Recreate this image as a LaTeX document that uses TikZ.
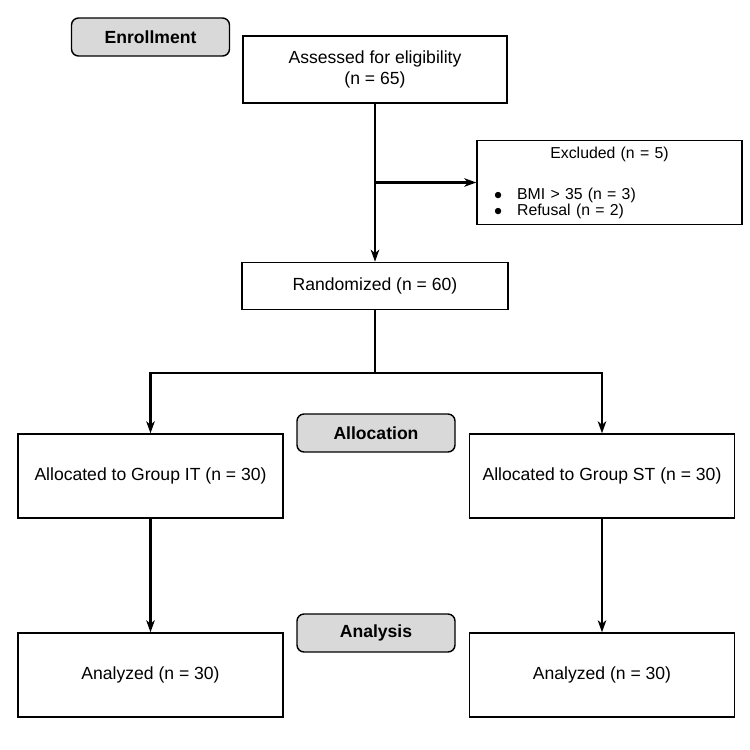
\documentclass[tikz,border=0pt]{standalone}
\usepackage{fontspec}
\setmainfont{Liberation Sans}
\usetikzlibrary{arrows.meta,positioning}

\begin{document}
\begin{tikzpicture}[
    >={Stealth[length=2.4mm,width=1.7mm,inset=0.7mm]},
    every node/.style={font=\fontsize{10}{12}\selectfont},
    box/.style={draw, line width=0.8pt, minimum width=5.3cm, minimum height=1.68cm, align=center},
    stage/.style={draw, line width=0.8pt, rounded corners=4pt, fill=gray!30, minimum width=3.16cm, minimum height=0.76cm, font=\fontsize{10}{12}\selectfont\bfseries},
    link/.style={->, line width=1.25pt},
  ]
    \useasboundingbox (0,0) rectangle (15,-15);

    % stage labels
    \node[stage] (enrol) at (3.01,-0.74) {Enrollment};
    \node[stage] (alloc) at (7.52,-8.66) {Allocation};
    \node[stage] (analysis) at (7.52,-12.66) {Analysis};

    % flow boxes
    \node[box, minimum width=5.28cm, minimum height=1.34cm] (elig) at (7.5,-1.39) {Assessed for eligibility\\(n = 65)};
    \node[box, minimum height=1.66cm, align=left, text width=5.1cm, inner xsep=0.1cm,
          font=\fontsize{9}{9.1}\selectfont] (excl) at (12.19,-3.65)
      {\makebox[\linewidth][c]{Excluded (n = 5)}\\[0.5cm]
       \hspace*{0.24cm}$\bullet$\hspace{0.3cm}BMI > 35 (n = 3)\\
       \hspace*{0.24cm}$\bullet$\hspace{0.3cm}Refusal (n = 2)};
    \node[box, minimum width=5.32cm, minimum height=0.94cm, below=3.16cm of elig] (rand) {Randomized (n = 60)};

    \node[box] (grpit) at (3.01,-9.52) {Allocated to Group IT (n = 30)};
    \node[box] (grpst) at (12.04,-9.52) {Allocated to Group ST (n = 30)};
    \node[box] (anit) at (3.01,-13.5) {Analyzed (n = 30)};
    \node[box] (anst) at (12.04,-13.5) {Analyzed (n = 30)};

    % connectors
    \draw[link] (elig) -- (rand);
    \draw[link] (excl.west -| elig.south) -- (excl.west);
    \path (rand.south) ++(0,-1.26) coordinate (split);
    \draw[link] (rand.south) -- (split) -| (grpit.north);
    \draw[link] (split) -| (grpst.north);
    \draw[link] (grpit) -- (anit);
    \draw[link] (grpst) -- (anst);
  \end{tikzpicture}
\end{document}
